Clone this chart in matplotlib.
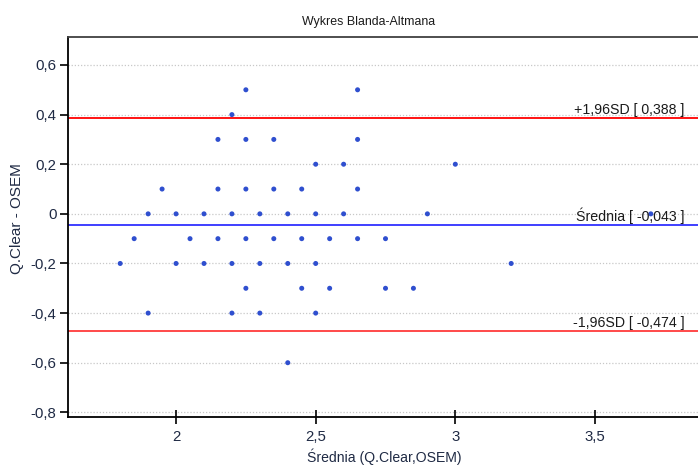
import matplotlib
matplotlib.use("Agg")
import matplotlib.pyplot as plt
from matplotlib.ticker import FixedLocator, FixedFormatter

plt.rcParams['font.family'] = ['Liberation Sans', 'DejaVu Sans']

# Mean of the two methods (x) and their difference (y) for each case
mean_vals = [
    2.25, 2.65,
    2.2,
    2.15, 2.25, 2.35, 2.65,
    2.5, 2.6, 3.0,
    1.95, 2.15, 2.25, 2.35, 2.45, 2.65,
    1.9, 2.0, 2.1, 2.2, 2.3, 2.4, 2.5, 2.6, 2.9, 3.7,
    1.85, 2.05, 2.15, 2.25, 2.35, 2.45, 2.55, 2.65, 2.75,
    1.8, 2.0, 2.1, 2.2, 2.3, 2.4, 2.5, 3.2,
    2.25, 2.45, 2.55, 2.75, 2.85,
    1.9, 2.2, 2.3, 2.5,
    2.4,
]
diff_vals = (
    [0.5] * 2 + [0.4] * 1 + [0.3] * 4 + [0.2] * 3 + [0.1] * 6 + [0.0] * 10
    + [-0.1] * 9 + [-0.2] * 8 + [-0.3] * 5 + [-0.4] * 4 + [-0.6] * 1
)

mean_diff = -0.043
upper_loa = 0.388
lower_loa = -0.474

y_ticks = [0.6, 0.4, 0.2, 0.0, -0.2, -0.4, -0.6, -0.8]
y_tick_labels = ["0,6", "0,4", "0,2", "0", "-0,2", "-0,4", "-0,6", "-0,8"]
x_ticks = [2.0, 2.5, 3.0, 3.5]
x_tick_labels = ["2", "2,5", "3", "3,5"]

W, H = 698, 466
fig = plt.figure(figsize=(W / 100, H / 100), dpi=100)
ax = fig.add_axes([67.7 / W, 1 - 417.3 / H, 1 - 67.7 / W, (417.3 - 36.7) / H])

ax.set_xlim(1.612, 3.869)
ax.set_ylim(-0.820, 0.714)

# horizontal dotted grid
for yv in y_ticks:
    ax.axhline(yv, color="#c8c8c8", lw=0.9, ls=(0, (1, 1.5)), zorder=1)

# limits of agreement and mean difference
ax.axhline(upper_loa, color="#ff0000", lw=1.3, zorder=2)
ax.axhline(mean_diff, color="#3030ff", lw=1.3, zorder=2)
ax.axhline(lower_loa, color="#ff3a3a", lw=1.3, zorder=2)

ax.scatter(mean_vals, diff_vals, s=13, color="#2f4fcf", edgecolors="none", zorder=3)

text_kw = dict(ha="right", va="bottom", fontsize=10.2, color="#1a1a1a", zorder=4)
xr = 3.822
ax.text(xr, upper_loa + 0.004, "+1,96SD [ 0,388 ]", **text_kw)
ax.text(xr, mean_diff + 0.004, "Średnia [ -0,043 ]", **text_kw)
ax.text(xr, lower_loa + 0.004, "-1,96SD [ -0,474 ]", **text_kw)

ax.yaxis.set_major_locator(FixedLocator(y_ticks))
ax.yaxis.set_major_formatter(FixedFormatter(y_tick_labels))
ax.xaxis.set_major_locator(FixedLocator(x_ticks))
ax.xaxis.set_major_formatter(FixedFormatter(x_tick_labels))

ax.tick_params(axis="y", direction="out", length=6, width=1.2, labelsize=10.8,
               labelcolor="#1f2a44", pad=2)
ax.tick_params(axis="x", direction="inout", length=10, width=1.2, labelsize=10.8,
               labelcolor="#1f2a44", pad=4)

for side in ("left", "bottom"):
    ax.spines[side].set_color("#000000")
    ax.spines[side].set_linewidth(1.3)
ax.spines["top"].set_color("#404040")
ax.spines["top"].set_linewidth(1.3)
ax.spines["right"].set_visible(False)

fig.text(368.5 / W, 1 - 22 / H, "Wykres Blanda-Altmana", ha="center", va="center",
         fontsize=8.9, color="#1a1a1a")
fig.text(384 / W, 1 - 457 / H, "Średnia (Q.Clear,OSEM)", ha="center", va="center",
         fontsize=10.1, color="#1f2a44")
fig.text(17 / W, 1 - 219 / H, "Q.Clear - OSEM", ha="center", va="center",
         rotation=90, fontsize=11, color="#1f2a44")

fig.savefig("out.png", dpi=100)
